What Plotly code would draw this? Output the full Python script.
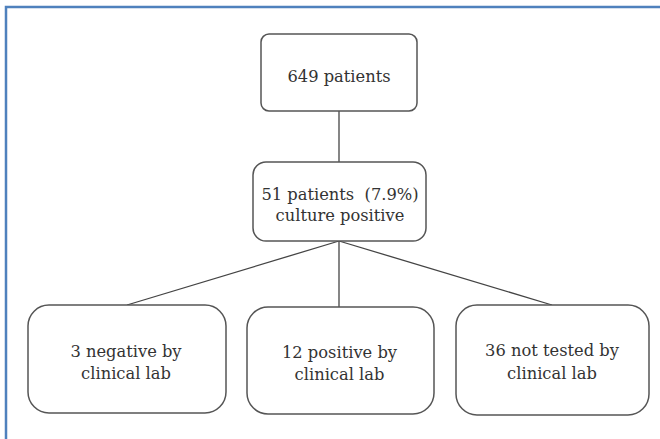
import plotly.graph_objects as go

# ---- data ----
total_patients = 649
culture_positive = 51
culture_positive_pct = 7.9
clinical_outcomes = ["negative by", "positive by", "not tested by"]
clinical_counts = [3, 12, 36]

# ---- layout constants (pixels, y downward) ----
W, H = 660, 439
TOP_BOX = (261, 34, 417, 111, 8)
MID_BOX = (253, 162, 426, 241, 13)
BOTTOM_BOXES = [(28, 305, 226, 413, 21), (247, 307, 434, 414, 21), (456, 305, 649, 415, 21)]
TREE_X = 339
BRANCH_TOPS = [(127, 305), (339, 307), (552, 305)]
TEXT_COLOR = "#333333"
BOX_COLOR = "#555555"
FONT = "DejaVu Serif"
FS = 16.3


def rrect(x0, y0, x1, y1, r):
    k = 0.45 * r
    return (f"M {x0+r},{y0} L {x1-r},{y0} C {x1-k},{y0} {x1},{y0+k} {x1},{y0+r} "
            f"L {x1},{y1-r} C {x1},{y1-k} {x1-k},{y1} {x1-r},{y1} "
            f"L {x0+r},{y1} C {x0+k},{y1} {x0},{y1-k} {x0},{y1-r} "
            f"L {x0},{y0+r} C {x0},{y0+k} {x0+k},{y0} {x0+r},{y0} Z")


fig = go.Figure()
shapes = []
shapes.append(dict(type="rect", x0=6, y0=7, x1=W + 20, y1=H + 20,
                   line=dict(color="#4F81BD", width=2.5), fillcolor="rgba(0,0,0,0)", layer="below"))
line_style = dict(color="#444444", width=1.3)
shapes.append(dict(type="line", x0=TREE_X, y0=TOP_BOX[3], x1=TREE_X, y1=MID_BOX[1], line=line_style,
                   layer="below"))
for bx, by in BRANCH_TOPS:
    shapes.append(dict(type="line", x0=TREE_X, y0=MID_BOX[3], x1=bx, y1=by, line=line_style,
                       layer="below"))
for b in [TOP_BOX, MID_BOX] + BOTTOM_BOXES:
    shapes.append(dict(type="path", path=rrect(*b), line=dict(color=BOX_COLOR, width=1.5),
                       fillcolor="white", layer="below"))

tx, ty, tt = [], [], []


def add_text(x, baseline, text):
    tx.append(x)
    ty.append(baseline - 4.5)
    tt.append(text)


add_text(339, 82, f"{total_patients} patients")
add_text(340, 200, f"{culture_positive} patients  ({culture_positive_pct}%)")
add_text(340, 221, "culture positive")
centers = [126, 339.5, 552]
baselines = [(357, 379), (358, 380), (356, 379)]
for cx, (b1, b2), lab, n in zip(centers, baselines, clinical_outcomes, clinical_counts):
    add_text(cx, b1, f"{n} {lab}")
    add_text(cx, b2, "clinical lab")

fig.add_trace(go.Scatter(x=tx, y=ty, text=tt, mode="text", textposition="middle center",
                         textfont=dict(family=FONT, size=FS, color=TEXT_COLOR),
                         hoverinfo="skip", cliponaxis=False))

fig.update_layout(
    width=W, height=H, margin=dict(l=0, r=0, t=0, b=0),
    paper_bgcolor="white", plot_bgcolor="white",
    font=dict(family=FONT),
    xaxis=dict(range=[0, W], visible=False, fixedrange=True),
    yaxis=dict(range=[H, 0], visible=False, fixedrange=True),
    shapes=shapes, showlegend=False,
)
fig.write_html("out.html", config={"displayModeBar": False},
               post_script="document.body.style.margin='0';document.body.style.padding='0';")
